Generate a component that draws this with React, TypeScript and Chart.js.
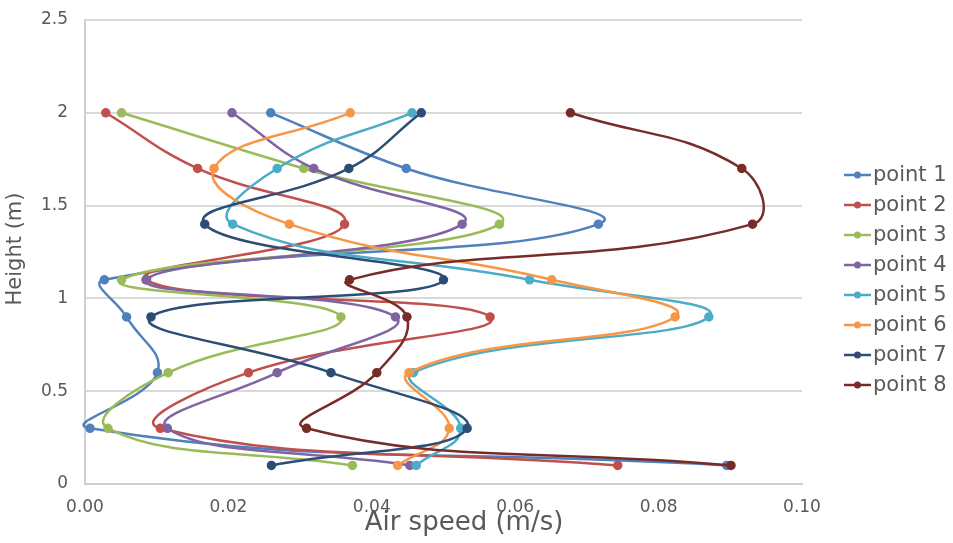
import React, { useEffect, useRef } from "react";
import { Chart, registerables } from "chart.js";

Chart.register(...registerables);

const heights = [0.1, 0.3, 0.6, 0.9, 1.1, 1.4, 1.7, 2.0];
const seriesNames = ["point 1", "point 2", "point 3", "point 4", "point 5", "point 6", "point 7", "point 8"];
const point1 = [0.0895, 0.0007, 0.0101, 0.0058, 0.0027, 0.0716, 0.0448, 0.0259];
const point2 = [0.0743, 0.0105, 0.0228, 0.0565, 0.0085, 0.0362, 0.0157, 0.0029];
const point3 = [0.0373, 0.0032, 0.0116, 0.0357, 0.0051, 0.0578, 0.0305, 0.0051];
const point4 = [0.0453, 0.0115, 0.0268, 0.0433, 0.0086, 0.0526, 0.0319, 0.0205];
const point5 = [0.0462, 0.0524, 0.0458, 0.087, 0.062, 0.0206, 0.0268, 0.0456];
const point6 = [0.0436, 0.0508, 0.0452, 0.0823, 0.0651, 0.0285, 0.018, 0.037];
const point7 = [0.026, 0.0533, 0.0343, 0.0092, 0.05, 0.0167, 0.0368, 0.0469];
const point8 = [0.0901, 0.0309, 0.0407, 0.0449, 0.0369, 0.0931, 0.0916, 0.0677];
const seriesValues = [point1, point2, point3, point4, point5, point6, point7, point8];
const colors = ["#4F81BD", "#C0504D", "#9BBB59", "#8064A2", "#4BACC6", "#F79646", "#2C4D75", "#772C2A"];
const xTicks = [0, 0.02, 0.04, 0.06, 0.08, 0.1];
const yTicks = [0, 0.5, 1, 1.5, 2, 2.5];
const xTitle = "Air speed (m/s)";
const yTitle = "Height (m)";

const FONT = "'DejaVu Sans', sans-serif";
const TEXT = "#595959";

const decorPlugin = {
  id: "decor",
  afterDraw(chart: any) {
    const ctx = chart.ctx;
    ctx.save();
    seriesNames.forEach((name, i) => {
      const y = 175 + i * 30;
      ctx.strokeStyle = colors[i];
      ctx.lineWidth = 2.5;
      ctx.beginPath();
      ctx.moveTo(844, y);
      ctx.lineTo(871, y);
      ctx.stroke();
      ctx.fillStyle = colors[i];
      ctx.beginPath();
      ctx.arc(857.5, y, 3.5, 0, Math.PI * 2);
      ctx.fill();
      ctx.fillStyle = TEXT;
      ctx.font = `21px ${FONT}`;
      ctx.textBaseline = "middle";
      ctx.textAlign = "left";
      ctx.fillText(name, 873, y + 1);
    });
    // axis titles
    ctx.fillStyle = TEXT;
    ctx.textAlign = "center";
    ctx.textBaseline = "middle";
    ctx.font = `26px ${FONT}`;
    ctx.fillText(xTitle, 464, 523);
    ctx.translate(16, 249);
    ctx.rotate(-Math.PI / 2);
    ctx.font = `21px ${FONT}`;
    ctx.fillText(yTitle, 0, 0);
    ctx.restore();
  },
};

export default function App() {
  const ref = useRef<HTMLCanvasElement | null>(null);
  useEffect(() => {
    if (!ref.current) return;
    const datasets = seriesValues.map((vals, i) => ({
      label: seriesNames[i],
      data: vals.map((v, j) => ({ x: v, y: heights[j] })),
      borderColor: colors[i],
      backgroundColor: colors[i],
      borderWidth: 2.5,
      pointRadius: 3.5,
      pointHoverRadius: 3.5,
      showLine: true,
      tension: 0.45,
      clip: false as any,
      order: 8 - i,
    }));
    const chart = new Chart(ref.current, {
      type: "scatter",
      data: { datasets },
      plugins: [decorPlugin],
      options: {
        animation: false,
        responsive: false,
        maintainAspectRatio: false,
        elements: { line: { capBezierPoints: false } },
        layout: { padding: { top: 20, right: 151, left: 0, bottom: 0 } },
        plugins: { legend: { display: false }, tooltip: { enabled: false } },
        scales: {
          x: {
            type: "linear",
            min: 0,
            max: 0.1,
            afterBuildTicks: (s: any) => {
              s.ticks = xTicks.map((v) => ({ value: v }));
            },
            afterFit: (s: any) => {
              s.height = 59;
              s.paddingLeft = 0;
              s.paddingRight = 0;
            },
            ticks: {
              color: TEXT,
              font: { family: FONT, size: 17 },
              padding: 13,
              callback: (v: any) => Number(v).toFixed(2),
              maxRotation: 0,
            },
            grid: { display: false, drawTicks: false },
            border: { display: true, color: "#D0D0D0", width: 2 },
            title: { display: false },
          },
          y: {
            type: "linear",
            min: 0,
            max: 2.5,
            afterBuildTicks: (s: any) => {
              s.ticks = yTicks.map((v) => ({ value: v }));
            },
            afterFit: (s: any) => {
              s.width = 85;
              s.paddingTop = 0;
              s.paddingBottom = 0;
            },
            ticks: {
              color: TEXT,
              font: { family: FONT, size: 17 },
              padding: 17,
              callback: (v: any) => String(v),
            },
            grid: { color: "#D9D9D9", lineWidth: 2, drawTicks: false },
            border: { display: true, color: "#D0D0D0", width: 2 },
            title: { display: false },
          },
        },
      },
    });
    return () => chart.destroy();
  }, []);
  return (
    <div style={{ position: "fixed", left: 0, top: 0, width: 953, height: 543, background: "#fff" }}>
      <canvas ref={ref} width={953} height={543} style={{ width: 953, height: 543 }} />
    </div>
  );
}
